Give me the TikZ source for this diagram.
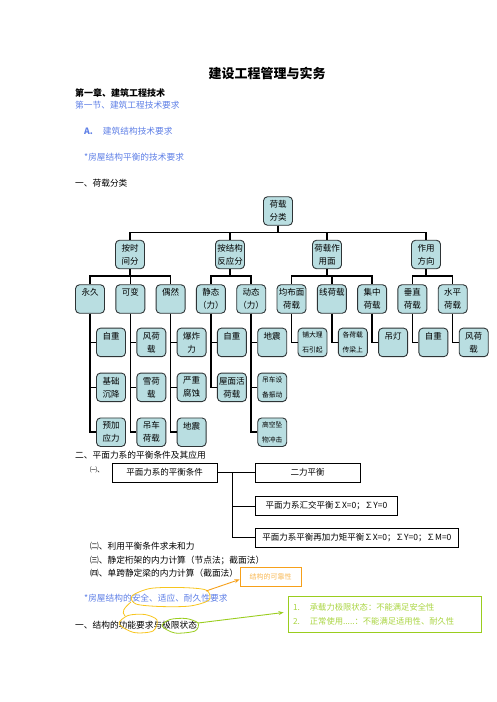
\documentclass[tikz,border=0pt]{standalone}
\usepackage{fontspec}
\setmainfont{Noto Sans CJK SC}
\usetikzlibrary{arrows.meta, positioning}
\definecolor{boxfill}{HTML}{B9DEE1}
\definecolor{boxline}{HTML}{2E3436}
\definecolor{noteblue}{HTML}{5E7FE6}
\definecolor{reliorange}{HTML}{F6A01A}
\definecolor{limitgreen}{HTML}{9ACD1E}
\definecolor{loopyellow}{HTML}{F7C51E}
\newcommand{\topline}[1]{#1\\\phantom{重}}

\begin{document}
\begin{tikzpicture}[x=1pt, y=-1pt,
    cat/.style={rectangle, rounded corners=4pt, draw=boxline, line width=0.9pt,
                fill=boxfill, minimum width=29pt, minimum height=28.5pt,
                inner sep=0pt, align=center, font=\fontsize{8.5}{13}\selectfont},
    smallcat/.style={cat, font=\fontsize{6.8}{14.5}\selectfont},
    conn/.style={line width=1.5pt, black},
    txt/.style={anchor=west, inner sep=0pt, font=\fontsize{8.7}{10}\selectfont},
    plainbox/.style={rectangle, draw, line width=0.8pt, minimum height=19pt,
                     inner sep=0pt, font=\fontsize{8.5}{10}\selectfont},
    thinconn/.style={line width=0.8pt},
    yloop/.style={draw=loopyellow, line width=0.8pt},
    arrow/.style={-{Stealth[length=5pt, width=4pt]}, line width=0.9pt}
  ]
    \useasboundingbox (0,0) rectangle (496,702);

    % heading lines
    \node[font=\bfseries\fontsize{13}{15}\selectfont] (title) at (267,73) {建设工程管理与实务};
    \node[txt, font=\bfseries\fontsize{9}{10}\selectfont] (chap) at (75,93) {第一章、建筑工程技术};
    \node[txt, text=noteblue] (sect) at (75,105) {第一节、建筑工程技术要求};
    \node[txt, text=noteblue] (partA) at (84,131) {\textbf{A.}\hspace{10pt}建筑结构技术要求};
    \node[txt, text=noteblue] (balance) at (84,157) {*房屋结构平衡的技术要求};
    \node[txt] (load) at (75,183) {一、荷载分类};

    % load tree
    \node[cat] (root) at (278,211) {荷载\\分类};
    \node[cat] (byTime)  at (130,254.5) {按时\\间分};
    \node[cat] (byReact) at (230,254.5) {按结构\\反应分};
    \node[cat] (byArea)  at (327,254.5) {荷载作\\用面};
    \node[cat] (byDir)   at (426,254.5) {作用\\方向};

    \node[cat] (perm) at (90,299) {\topline{永久}};
    \node[cat, right=10.4pt of perm]    (var)     {\topline{可变}};
    \node[cat, right=10.4pt of var]     (acc)     {\topline{偶然}};
    \node[cat, right=10.4pt of acc]     (static)  {静态\\（力）};
    \node[cat, right=10.4pt of static]  (dynamic) {动态\\（力）};
    \node[cat, right=10.4pt of dynamic] (surf)    {均布面\\荷载};
    \node[cat, right=10.4pt of surf]    (line)    {\topline{线荷载}};
    \node[cat, right=10.4pt of line]    (point)   {集中\\荷载};
    \node[cat, right=10.4pt of point]   (vert)    {垂直\\荷载};
    \node[cat, right=10.4pt of vert]    (horiz)   {水平\\荷载};

    \node[cat, below=14pt of perm, xshift=21pt] (perm1) {\topline{自重}};
    \node[cat, below=15.5pt of perm1] (perm2) {基础\\沉降};
    \node[cat, below=15.5pt of perm2] (perm3) {预加\\应力};
    \node[cat, below=14pt of var, xshift=21pt] (var1) {风荷\\载};
    \node[cat, below=15.5pt of var1] (var2) {雪荷\\载};
    \node[cat, below=15.5pt of var2] (var3) {吊车\\荷载};
    \node[cat, below=14pt of acc, xshift=21pt] (acc1) {爆炸\\力};
    \node[cat, below=15.5pt of acc1] (acc2) {严重\\腐蚀};
    \node[cat, below=15.5pt of acc2] (acc3) {\topline{地震}};
    \node[cat, below=14pt of static, xshift=21pt] (static1) {\topline{自重}};
    \node[cat, below=15.5pt of static1] (static2) {屋面活\\荷载};
    \node[cat, below=14pt of dynamic, xshift=21pt] (dyn1) {\topline{地震}};
    \node[smallcat, below=15.5pt of dyn1] (dyn2) {吊车设\\备振动};
    \node[smallcat, below=15.5pt of dyn2] (dyn3) {高空坠\\物冲击};
    \node[smallcat, below=14pt of surf, xshift=21pt] (surf1) {铺大理\\石引起};
    \node[smallcat, below=14pt of line, xshift=21pt] (line1) {各荷载\\传梁上};
    \node[cat, below=14pt of point, xshift=21pt] (point1) {\topline{吊灯}};
    \node[cat, below=14pt of vert, xshift=21pt] (vert1) {\topline{自重}};
    \node[cat, below=14pt of horiz, xshift=21pt] (horiz1) {风荷\\载};

    \foreach \c in {byTime, byReact, byArea, byDir}
      \draw[conn] (root.south) -- ++(0,7) -| (\c.north);
    \foreach \p/\c in {byTime/perm, byTime/var, byTime/acc, byReact/static, byReact/dynamic,
                       byArea/surf, byArea/line, byArea/point, byDir/vert, byDir/horiz}
      \draw[conn] (\p.south) -- ++(0,7) -| (\c.north);
    \foreach \p/\c in {perm/perm1, perm/perm2, perm/perm3, var/var1, var/var2, var/var3,
                       acc/acc1, acc/acc2, acc/acc3, static/static1, static/static2,
                       dynamic/dyn1, dynamic/dyn2, dynamic/dyn3, surf/surf1, line/line1,
                       point/point1, vert/vert1, horiz/horiz1}
      \draw[conn] (\p.south) |- (\c.west);

    % equilibrium conditions
    \node[txt] (sec2) at (75,455) {二、平面力系的平衡条件及其应用};
    \node[txt, font=\fontsize{7}{8}\selectfont] (sub1) at (90,470) {㈠、};
    \node[plainbox, minimum width=105pt] (cond) at (164.5,472.5) {平面力系的平衡条件};
    \node[plainbox, minimum width=105pt] (twoF) at (307.5,472.5) {二力平衡};
    \node[plainbox, minimum width=142pt, anchor=west] (conc) at (255,506) {平面力系汇交平衡∑X=0；∑Y=0};
    \node[plainbox, minimum width=203pt, anchor=west] (moment) at (255,537.5) {平面力系平衡再加力矩平衡∑X=0；∑Y=0；∑M=0};
    \coordinate (fork) at (232,472.5);
    \draw[thinconn] (cond.east) -- (twoF.west);
    \draw[thinconn] (fork) |- (conc.west);
    \draw[thinconn] (fork) |- (moment.west);

    \node[txt] (sub2) at (90,546) {㈡、利用平衡条件求未和力};
    \node[txt] (sub3) at (90,560) {㈢、静定桁架的内力计算（节点法；截面法）};
    \node[txt] (sub4) at (90,573) {㈣、单跨静定梁的内力计算（截面法）};

    % reliability notes
    \node[draw=reliorange, line width=0.9pt, minimum width=61pt, minimum height=19pt,
          inner sep=0pt, text=reliorange!75, font=\fontsize{7}{8}\selectfont] (reli) at (270.5,576.5) {结构的可靠性};
    \node[txt, text=noteblue] (req) at (84,598) {*房屋结构的安全、适应、耐久性要求};
    \node[txt] (func) at (75,625) {一、结构的功能要求与极限状态};
    \node[draw=limitgreen, line width=1pt, minimum height=36pt, inner sep=5pt, text width=183pt,
          align=left, text=limitgreen!85, font=\fontsize{8.3}{14}\selectfont] (limit) at (384.5,614)
          {1.\hspace{10pt}承载力极限状态：不能满足安全性\\2.\hspace{10pt}正常使用.....：不能满足适用性、耐久性};

    \draw[yloop] plot[smooth cycle] coordinates {(132,596) (150,588.5) (180,587.5) (206,590) (209,600) (190,606) (160,606.5) (136,604)};
    \draw[yloop] (131,602) .. controls (124,608) and (121,612) .. (125,616);
    \draw[yloop] plot[smooth cycle] coordinates {(119,624) (128,615.5) (145,614.5) (157,620) (153,631) (134,632.5)};
    \draw[draw=limitgreen, line width=0.8pt] plot[smooth cycle] coordinates {(162,626) (170,619.5) (186,618.5) (198,623) (195,631) (175,633)};

    \coordinate (safeTip) at (206,591);
    \coordinate (stateTip) at (198,623);
    \draw[arrow, reliorange] (safeTip) -- ([yshift=-3pt]reli.west);
    \draw[arrow, limitgreen, shorten >=4pt] (stateTip) -- ([yshift=2pt]limit.west);
\end{tikzpicture}
\end{document}
